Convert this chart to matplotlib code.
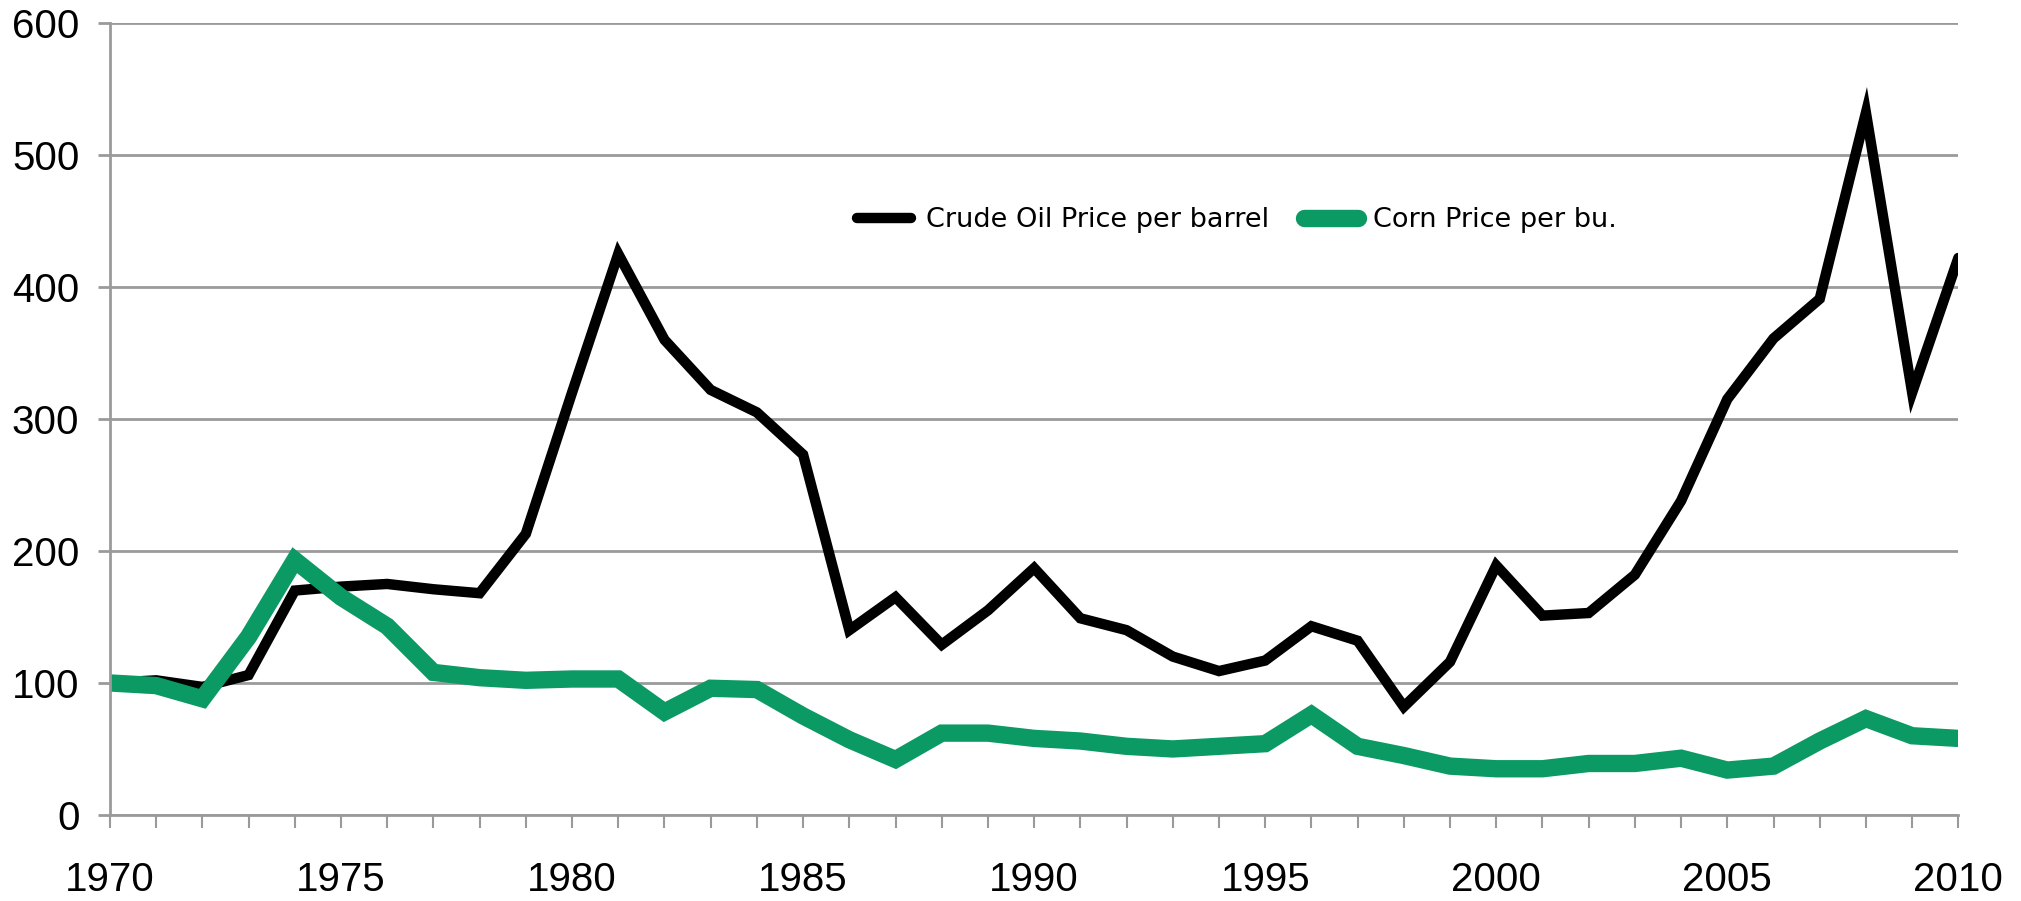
import matplotlib.pyplot as plt
from matplotlib.ticker import MultipleLocator
import numpy as np

years = np.arange(1970, 2011)
crude_oil = [100, 102, 97, 106, 170, 173, 175, 171, 168, 213,
             320, 425, 360, 322, 305, 273, 140, 165, 129, 155,
             187, 149, 140, 120, 109, 117, 143, 132, 82, 116,
             189, 151, 153, 182, 238, 315, 361, 391, 532, 320,
             422]
corn = [100, 98, 88, 135, 193, 165, 143, 108, 104, 102,
        103, 103, 78, 96, 95, 75, 57, 42, 62, 62,
        58, 56, 52, 50, 52, 54, 76, 52, 45, 37,
        35, 35, 39, 39, 43, 34, 37, 56, 73, 60,
        58]

grid_col = '#9a9a9a'

fig = plt.figure(figsize=(20.21, 9.01), dpi=100)
ax = fig.add_axes([0.0544, 0.0955, 0.9146, 0.879])

ax.plot(years, crude_oil, color='black', linewidth=7.5,
        solid_joinstyle='miter', solid_capstyle='round',
        label='Crude Oil Price per barrel')
ax.plot(years, corn, color='#0b9964', linewidth=12.5,
        solid_joinstyle='miter', solid_capstyle='round',
        label='Corn Price per bu.')

ax.set_xlim(1970, 2010)
ax.set_ylim(0, 600)
ax.set_yticks(np.arange(0, 601, 100))
ax.xaxis.set_major_locator(MultipleLocator(5))
ax.xaxis.set_minor_locator(MultipleLocator(1))

ax.grid(axis='y', color=grid_col, linewidth=2)
ax.set_axisbelow(True)
for side in ['top', 'right']:
    ax.spines[side].set_visible(False)
for side in ['left', 'bottom']:
    ax.spines[side].set_color(grid_col)
    ax.spines[side].set_linewidth(2)

ax.tick_params(axis='y', which='major', length=9, width=2, color=grid_col,
               pad=13, labelsize=29)
ax.tick_params(axis='x', which='both', length=9, width=1.5, color=grid_col,
               direction='out')
ax.tick_params(axis='x', which='major', pad=24, labelsize=29)
for lab in ax.get_xticklabels() + ax.get_yticklabels():
    lab.set_family('Liberation Sans')

ax.legend(loc='center left', bbox_to_anchor=(0.404, 0.751), ncol=2,
          frameon=False, borderaxespad=0, borderpad=0,
          handlelength=2.0, handletextpad=0.55, columnspacing=1.3,
          prop={'family': 'DejaVu Sans', 'size': 19.5})

plt.savefig('out.png', dpi=100)
